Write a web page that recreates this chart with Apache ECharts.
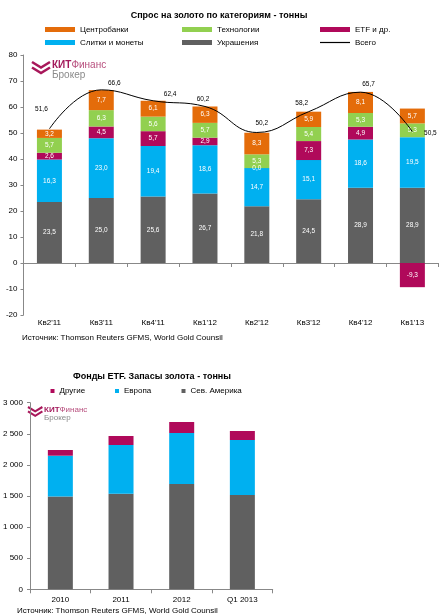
<!DOCTYPE html>
<html><head><meta charset="utf-8">
<script src="https://cdn.jsdelivr.net/npm/echarts@6/dist/echarts.min.js"></script>
<style>html,body{margin:0;padding:0;background:#fff}#c{width:446px;height:616px}</style>
</head><body><div id="c"></div>
<script>
// ---- Chart 1 data: gold demand by category (tonnes) ----
const quarters = ["Кв2'11", "Кв3'11", "Кв4'11", "Кв1'12", "Кв2'12", "Кв3'12", "Кв4'12", "Кв1'13"];
const jewelry = [23.5, 25.0, 25.6, 26.7, 21.8, 24.5, 28.9, 28.9];
const barsCoins = [16.3, 23.0, 19.4, 18.6, 14.7, 15.1, 18.6, 19.5];
const etfOther = [2.6, 4.5, 5.7, 2.9, 0.0, 7.3, 4.9, -9.3];
const technology = [5.7, 6.3, 5.6, 5.7, 5.3, 5.4, 5.3, 5.3];
const centralBanks = [3.2, 7.7, 6.1, 6.3, 8.3, 5.9, 8.1, 5.7];
const total = [51.6, 66.6, 62.4, 60.2, 50.2, 58.2, 65.7, 50.5];

// ---- Chart 2 data: ETF gold holdings (tonnes) ----
const periods = ['2010', '2011', '2012', 'Q1 2013'];
const holdOther = [92, 145, 177, 145];
const holdEurope = [658, 783, 820, 884];
const holdNorthAmerica = [1490, 1537, 1693, 1516];

// ---- label placement for the total line (not data) ----
const totalLabelOffsets = [[-8, -11], [13, 2], [17, 2], [-2, 1], [5, -1], [-7, 0], [8, 1], [18, 10]];

const C = {orange: '#E46C0A', green: '#92D050', magenta: '#B0095A', blue: '#00B0F0', grey: '#606060', axis: '#888888'};
const FONT = 'Liberation Sans, Arial, sans-serif';
const fmt1 = v => Number(v).toFixed(1).replace('.', ',');
const fmtK = v => { const s = String(v); return s.length > 3 ? s.slice(0, s.length - 3) + ' ' + s.slice(-3) : s; };

const chart = echarts.init(document.getElementById('c'), null, {renderer: 'canvas'});

function barSeries(name, data, color) {
  return {
    name, type: 'bar', stack: 'demand', data, barWidth: 25,
    xAxisIndex: 0, yAxisIndex: 0,
    itemStyle: {color},
    label: {show: true, position: 'inside', color: '#fff', fontSize: 6.5, fontFamily: FONT,
      formatter: p => fmt1(p.value)},
    emphasis: {disabled: true}
  };
}
function holdSeries(name, data, color) {
  return {
    name, type: 'bar', stack: 'hold', data, barWidth: 25,
    xAxisIndex: 2, yAxisIndex: 1, itemStyle: {color}, emphasis: {disabled: true}
  };
}
function leg(name, left, top, opts) {
  return Object.assign({
    data: [name], left, top, padding: 0, icon: 'rect', itemWidth: 30, itemHeight: 5,
    selectedMode: false, textStyle: {fontSize: 8, color: '#000', fontFamily: FONT}
  }, opts || {});
}

function logo(x, y, s) {
  const col = '#A8175A';
  return {
    type: 'group', x, y, scaleX: s, scaleY: s, children: [
      {type: 'polyline', shape: {points: [[0, 0], [9, 5.5], [18, 0]]}, style: {stroke: col, lineWidth: 2.6, fill: null}},
      {type: 'polyline', shape: {points: [[0, 5.5], [9, 11], [18, 5.5]]}, style: {stroke: col, lineWidth: 2.6, fill: null}},
      {type: 'text', x: 20, y: 3, style: {text: '{a|КИТ}{b|Финанс}', textVerticalAlign: 'middle',
        rich: {a: {fontSize: 10, fontWeight: 'bold', fill: '#A3195B', fontFamily: FONT},
               b: {fontSize: 10, fill: '#B8507E', fontFamily: FONT}}}},
      {type: 'text', x: 20, y: 13.5, style: {text: 'Брокер', fontSize: 10, fill: '#8A8A8A', fontFamily: FONT, textVerticalAlign: 'middle'}}
    ]
  };
}

const option = {
  animation: false,
  textStyle: {fontFamily: FONT},
  grid: [
    {left: 23.5, right: 7.7, top: 55, bottom: 301, containLabel: false},
    {left: 23.3, width: 249.4, top: 402.7, height: 186.6, containLabel: false}
  ],
  legend: [
    leg('Центробанки', 45, 25.5),
    leg('Технологии', 182, 25.5),
    leg('ETF и др.', 320, 25.5),
    leg('Слитки и монеты', 45, 38.5),
    leg('Украшения', 182, 38.5),
    leg('Всего', 320, 38.5, {itemHeight: 1.2}),
    leg('Другие', 50.5, 387, {itemWidth: 4, itemHeight: 4}),
    leg('Европа', 115, 387, {itemWidth: 4, itemHeight: 4}),
    leg('Сев. Америка', 181.5, 387, {itemWidth: 4, itemHeight: 4})
  ],
  xAxis: [
    {gridIndex: 0, type: 'category', data: quarters, position: 'bottom',
      axisLine: {onZero: true, lineStyle: {color: C.axis}},
      axisTick: {show: true, length: 4, lineStyle: {color: C.axis}},
      axisLabel: {show: false}, splitLine: {show: false}},
    {gridIndex: 0, type: 'category', data: quarters, position: 'bottom',
      axisLine: {show: false, onZero: false}, axisTick: {show: false},
      axisLabel: {fontSize: 8, color: '#000', margin: 4, fontFamily: FONT}, splitLine: {show: false}},
    {gridIndex: 1, type: 'category', data: periods, position: 'bottom',
      axisLine: {lineStyle: {color: C.axis}},
      axisTick: {show: true, length: 4, lineStyle: {color: C.axis}},
      axisLabel: {fontSize: 8, color: '#000', margin: 6, fontFamily: FONT}, splitLine: {show: false}}
  ],
  yAxis: [
    {gridIndex: 0, type: 'value', min: -20, max: 80, interval: 10,
      axisLine: {show: true, lineStyle: {color: C.axis}},
      axisTick: {show: true, length: 3, lineStyle: {color: C.axis}},
      axisLabel: {fontSize: 8, color: '#000', margin: 6, fontFamily: FONT}, splitLine: {show: false}},
    {gridIndex: 1, type: 'value', min: 0, max: 3000, interval: 500,
      axisLine: {show: true, lineStyle: {color: C.axis}},
      axisTick: {show: true, length: 3, lineStyle: {color: C.axis}},
      axisLabel: {fontSize: 8, color: '#000', margin: 7, fontFamily: FONT, formatter: fmtK}, splitLine: {show: false}}
  ],
  series: [
    barSeries('Украшения', jewelry, C.grey),
    barSeries('Слитки и монеты', barsCoins, C.blue),
    barSeries('ETF и др.', etfOther, C.magenta),
    barSeries('Технологии', technology, C.green),
    barSeries('Центробанки', centralBanks, C.orange),
    {
      name: 'Всего', type: 'line', smooth: 0.45, xAxisIndex: 0, yAxisIndex: 0, z: 5,
      symbol: 'circle', symbolSize: 0.01, showSymbol: true,
      lineStyle: {color: '#000', width: 1}, itemStyle: {color: '#000'},
      data: total.map((v, i) => ({value: v, label: {offset: totalLabelOffsets[i]}})),
      label: {show: true, position: 'top', distance: 5, color: '#000', fontSize: 6.5, fontFamily: FONT,
        formatter: p => fmt1(p.value)},
      emphasis: {disabled: true}
    },
    holdSeries('Сев. Америка', holdNorthAmerica, C.grey),
    holdSeries('Европа', holdEurope, C.blue),
    holdSeries('Другие', holdOther, C.magenta)
  ],
  graphic: [
    {type: 'text', x: 219, y: 15.5, style: {text: 'Спрос на золото по категориям - тонны', fontSize: 9, fontWeight: 'bold',
      fill: '#000', fontFamily: FONT, textAlign: 'center', textVerticalAlign: 'middle'}},
    {type: 'text', x: 22, y: 338, style: {text: 'Источник: Thomson Reuters GFMS, World Gold Counsil', fontSize: 8,
      fill: '#000', fontFamily: FONT, textVerticalAlign: 'middle'}},
    {type: 'text', x: 152, y: 377, style: {text: 'Фонды ETF. Запасы золота - тонны', fontSize: 9, fontWeight: 'bold',
      fill: '#000', fontFamily: FONT, textAlign: 'center', textVerticalAlign: 'middle'}},
    {type: 'text', x: 17, y: 611, style: {text: 'Источник: Thomson Reuters GFMS, World Gold Counsil', fontSize: 8,
      fill: '#000', fontFamily: FONT, textVerticalAlign: 'middle'}},
    logo(32, 62, 1),
    logo(28, 407, 0.8)
  ]
};
chart.setOption(option);
</script>
</body></html>
